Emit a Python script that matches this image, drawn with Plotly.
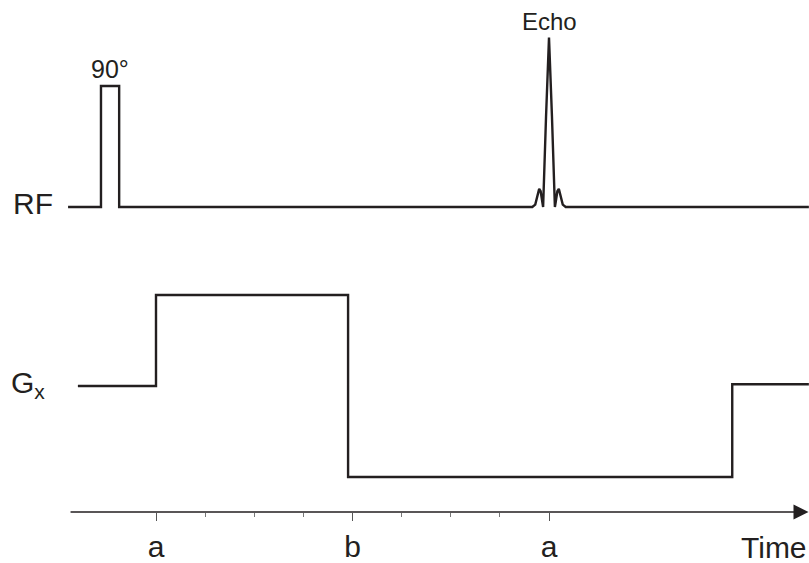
import plotly.graph_objects as go

# Time base: one tick unit per interval, "a" at 0, "b" at 4, "a" at 8
tick_vals = [0, 4, 8]
tick_text = ["a", "b", "a"]
minor_vals = [1, 2, 3, 5, 6, 7]

# RF channel: 90° hard pulse followed by the echo (amplitude, arbitrary units)
rf_t = [-1.79, -1.12, -1.12, -0.75, -0.75,
        7.66, 7.72, 7.76, 7.80, 7.83, 7.86, 7.88, 7.94, 8.00,
        8.06, 8.12, 8.14, 8.17, 8.20, 8.24, 8.28, 8.34, 13.29]
rf_amp = [0, 0, 1, 1, 0,
          0, 0.02, 0.09, 0.15, 0.13, 0.05, 0.0, 0.75, 1.40,
          0.75, 0.0, 0.05, 0.13, 0.15, 0.09, 0.02, 0, 0]

# Readout gradient Gx: dephasing lobe, then reversed lobe
gx_t = [-1.59, 0, 0, 3.91, 3.91, 11.73, 11.73, 13.29]
gx_amp = [0, 0, 1, 1, -1, -1, 0.02, 0.02]

INK = "#231f20"
FONT = "Liberation Sans, Arial, Helvetica, sans-serif"

fig = go.Figure()
fig.add_trace(go.Scatter(x=rf_t, y=rf_amp, mode="lines", yaxis="y",
                         line=dict(color=INK, width=2.4), hoverinfo="skip"))
fig.add_trace(go.Scatter(x=gx_t, y=gx_amp, mode="lines", yaxis="y2",
                         line=dict(color=INK, width=2.4), hoverinfo="skip"))
# invisible trace carrying the time axis
fig.add_trace(go.Scatter(x=[0], y=[0], mode="markers", yaxis="y3",
                         marker=dict(opacity=0), hoverinfo="skip"))

t0 = -156 / 49.125
t1 = (809 - 156) / 49.125
axis_y = 1 - 512 / 563

fig.update_layout(
    width=809, height=563,
    margin=dict(l=0, r=0, t=0, b=0, autoexpand=False),
    paper_bgcolor="white", plot_bgcolor="white",
    showlegend=False,
    font=dict(family=FONT, color=INK),
    xaxis=dict(range=[t0, t1], domain=[0, 1], anchor="y3", side="bottom",
               automargin=False,
               showgrid=False, zeroline=False, showline=False,
               tickmode="array", tickvals=tick_vals, ticktext=tick_text,
               ticks="outside", ticklen=8, tickwidth=1.3, tickcolor="#555555",
               ticklabelstandoff=0,
               tickfont=dict(size=30, family=FONT, color=INK),
               minor=dict(tickmode="array", tickvals=minor_vals, ticks="outside",
                          ticklen=4, tickwidth=1.1, tickcolor="#777777")),
    yaxis=dict(domain=[1 - 220 / 563, 1 - 20 / 563], range=[-13 / 121, 187 / 121],
               visible=False, fixedrange=True, automargin=False),
    yaxis2=dict(domain=[1 - 490 / 563, 1 - 280 / 563], range=[-104 / 91, 106 / 91],
                visible=False, fixedrange=True, automargin=False),
    yaxis3=dict(domain=[axis_y, axis_y + 0.05], range=[0, 1],
                visible=False, fixedrange=True, automargin=False),
)

# time axis line with arrow head
fig.add_annotation(x=t1 - 0.01, y=0, xref="x", yref="y3",
                   ax=-1.77, ay=0, axref="x", ayref="y3",
                   text="", showarrow=True, arrowhead=2, arrowsize=2.0,
                   arrowwidth=1.5, arrowcolor=INK, standoff=0, startstandoff=0)

labels = [
    dict(text="RF", x=55 / 809, xref="paper", y=0.03, yref="y",
         xanchor="right", yanchor="middle", font=dict(size=30)),
    dict(text="G<sub>x</sub>", x=47 / 809, xref="paper", y=0.02, yref="y2",
         xanchor="right", yanchor="middle", font=dict(size=30)),
    dict(text="90°", x=-0.935, xref="x", y=1.0, yref="y",
         xanchor="center", yanchor="bottom", yshift=1, font=dict(size=25)),
    dict(text="Echo", x=8, xref="x", y=1.40, yref="y",
         xanchor="center", yanchor="bottom", yshift=1, font=dict(size=24)),
    dict(text="Time", x=1.0, xref="paper", y=1 - 547 / 563, yref="paper",
         xanchor="right", yanchor="middle", font=dict(size=30)),
]
for lab in labels:
    fig.add_annotation(showarrow=False, font_color=INK, font_family=FONT, **lab)

fig.write_html("out.html")
